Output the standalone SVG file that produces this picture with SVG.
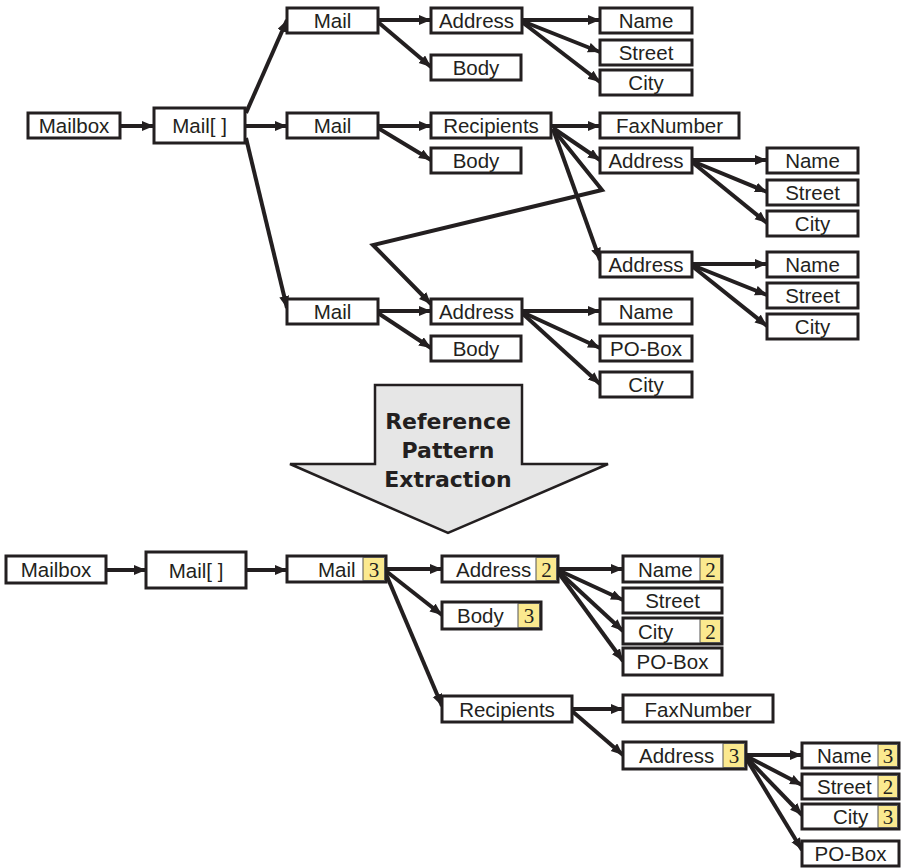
<svg xmlns="http://www.w3.org/2000/svg" width="902" height="868" viewBox="0 0 902 868">
<defs>
<marker id="ah" markerUnits="userSpaceOnUse" markerWidth="13" markerHeight="11" refX="12" refY="5" orient="auto">
<path d="M0,0 L12,5 L0,10 z" fill="#231f20"/>
</marker>
<style>
.b{fill:#fff;stroke:#231f20;stroke-width:3}
.y{fill:#fbe98f;stroke:#555;stroke-width:1}
.t{font-family:"Liberation Sans",Arial,sans-serif;font-size:20.5px;fill:#231f20;text-anchor:middle}
.s{font-family:"Liberation Sans",Arial,sans-serif;font-size:20.5px;fill:#231f20}
.n{font-family:"Liberation Serif","Times New Roman",serif;font-size:21px;fill:#231f20;text-anchor:middle}
.c{fill:none;stroke:#231f20;stroke-width:4;stroke-linejoin:miter;marker-end:url(#ah)}
.h{font-family:"DejaVu Sans",Verdana,sans-serif;font-size:22px;font-weight:bold;fill:#231f20;text-anchor:middle}
</style>
</defs>
<rect width="902" height="868" fill="#fff"/>

<g id="connectors">
<line class="c" x1="120" y1="126" x2="154" y2="126"/>
<line class="c" x1="246" y1="113" x2="287" y2="20"/>
<line class="c" x1="246" y1="126" x2="287" y2="126"/>
<line class="c" x1="246" y1="138" x2="287" y2="308"/>
<line class="c" x1="378" y1="20" x2="431" y2="20"/>
<line class="c" x1="378" y1="22" x2="431" y2="67"/>
<line class="c" x1="522" y1="20" x2="600" y2="20"/>
<line class="c" x1="522" y1="21" x2="600" y2="52"/>
<line class="c" x1="522" y1="22" x2="600" y2="82"/>
<line class="c" x1="378" y1="126" x2="431" y2="126"/>
<line class="c" x1="378" y1="128" x2="431" y2="160"/>
<line class="c" x1="551" y1="126" x2="600" y2="126"/>
<line class="c" x1="553" y1="128" x2="600" y2="160"/>
<polyline class="c" points="553,129 602,190 373,245 431,304"/>
<line class="c" x1="553" y1="129" x2="600" y2="260"/>
<line class="c" x1="692" y1="160" x2="767" y2="160"/>
<line class="c" x1="692" y1="161" x2="767" y2="192"/>
<line class="c" x1="692" y1="162" x2="767" y2="223"/>
<line class="c" x1="692" y1="264" x2="767" y2="264"/>
<line class="c" x1="692" y1="265" x2="767" y2="295"/>
<line class="c" x1="692" y1="266" x2="767" y2="326"/>
<line class="c" x1="378" y1="311" x2="431" y2="311"/>
<line class="c" x1="378" y1="313" x2="431" y2="348"/>
<line class="c" x1="522" y1="311" x2="600" y2="311"/>
<line class="c" x1="522" y1="312" x2="600" y2="348"/>
<line class="c" x1="522" y1="313" x2="600" y2="384"/>

<line class="c" x1="106" y1="570" x2="146" y2="570"/>
<line class="c" x1="246" y1="570" x2="287" y2="570"/>
<line class="c" x1="386" y1="569" x2="442" y2="569"/>
<line class="c" x1="386" y1="571" x2="442" y2="615"/>
<line class="c" x1="386" y1="574" x2="442" y2="706"/>
<line class="c" x1="558" y1="569" x2="623" y2="569"/>
<line class="c" x1="558" y1="570" x2="623" y2="600"/>
<line class="c" x1="558" y1="571" x2="623" y2="631"/>
<line class="c" x1="558" y1="572" x2="623" y2="661"/>
<line class="c" x1="572" y1="709" x2="623" y2="709"/>
<line class="c" x1="572" y1="711" x2="623" y2="755"/>
<line class="c" x1="746" y1="755" x2="802" y2="755"/>
<line class="c" x1="746" y1="756" x2="802" y2="785"/>
<line class="c" x1="746" y1="757" x2="802" y2="815"/>
<line class="c" x1="746" y1="758" x2="802" y2="850"/>
</g>

<g id="t-mailbox"><rect class="b" x="28" y="113" width="92" height="25"/><text class="t" x="74" y="133">Mailbox</text></g>
<g id="t-mailarr"><rect class="b" x="154" y="108" width="91" height="35"/><text class="t" x="199.5" y="133">Mail[ ]</text></g>
<g id="t-mail1"><rect class="b" x="287" y="8" width="91" height="25"/><text class="t" x="332.5" y="28">Mail</text></g>
<g id="t-mail2"><rect class="b" x="287" y="113" width="91" height="25"/><text class="t" x="332.5" y="133">Mail</text></g>
<g id="t-mail3"><rect class="b" x="287" y="299" width="91" height="25"/><text class="t" x="332.5" y="319">Mail</text></g>
<g id="t-addr1"><rect class="b" x="431" y="8" width="91" height="25"/><text class="t" x="476.5" y="28">Address</text></g>
<g id="t-body1"><rect class="b" x="431" y="55" width="90" height="25"/><text class="t" x="476" y="75">Body</text></g>
<g id="t-name1"><rect class="b" x="600" y="8" width="92" height="25"/><text class="t" x="646" y="28">Name</text></g>
<g id="t-street1"><rect class="b" x="600" y="40" width="92" height="25"/><text class="t" x="646" y="60">Street</text></g>
<g id="t-city1"><rect class="b" x="600" y="70" width="92" height="25"/><text class="t" x="646" y="90">City</text></g>
<g id="t-recip"><rect class="b" x="431" y="113" width="120" height="25"/><text class="t" x="491" y="133">Recipients</text></g>
<g id="t-body2"><rect class="b" x="431" y="148" width="90" height="25"/><text class="t" x="476" y="168">Body</text></g>
<g id="t-fax"><rect class="b" x="600" y="113" width="139" height="25"/><text class="t" x="669.5" y="133">FaxNumber</text></g>
<g id="t-addr2"><rect class="b" x="600" y="148" width="92" height="25"/><text class="t" x="646" y="168">Address</text></g>
<g id="t-name2"><rect class="b" x="767" y="148" width="91" height="25"/><text class="t" x="812.5" y="168">Name</text></g>
<g id="t-street2"><rect class="b" x="767" y="180" width="91" height="25"/><text class="t" x="812.5" y="200">Street</text></g>
<g id="t-city2"><rect class="b" x="767" y="211" width="91" height="25"/><text class="t" x="812.5" y="231">City</text></g>
<g id="t-addr3"><rect class="b" x="600" y="252" width="92" height="25"/><text class="t" x="646" y="272">Address</text></g>
<g id="t-name3"><rect class="b" x="767" y="252" width="91" height="25"/><text class="t" x="812.5" y="272">Name</text></g>
<g id="t-street3"><rect class="b" x="767" y="283" width="91" height="25"/><text class="t" x="812.5" y="303">Street</text></g>
<g id="t-city3"><rect class="b" x="767" y="314" width="91" height="25"/><text class="t" x="812.5" y="334">City</text></g>
<g id="t-addr4"><rect class="b" x="431" y="299" width="91" height="25"/><text class="t" x="476.5" y="319">Address</text></g>
<g id="t-body3"><rect class="b" x="431" y="336" width="90" height="25"/><text class="t" x="476" y="356">Body</text></g>
<g id="t-name4"><rect class="b" x="600" y="299" width="92" height="25"/><text class="t" x="646" y="319">Name</text></g>
<g id="t-pobox"><rect class="b" x="600" y="336" width="92" height="25"/><text class="t" x="646" y="356">PO-Box</text></g>
<g id="t-city4"><rect class="b" x="600" y="372" width="92" height="25"/><text class="t" x="646" y="392">City</text></g>

<g id="extraction-arrow">
<polygon points="375,385 522,385 522,464 608,464 448,533 290,464 375,464" fill="#e6e6e6" stroke="#231f20" stroke-width="2.5" stroke-linejoin="miter"/>
<text class="h" x="448" y="429">Reference</text>
<text class="h" x="448" y="458">Pattern</text>
<text class="h" x="448" y="487">Extraction</text>
</g>

<g id="p-mailbox"><rect class="b" x="6" y="556" width="100" height="27"/><text class="t" x="56" y="577">Mailbox</text></g>
<g id="p-mailarr"><rect class="b" x="146" y="552" width="100" height="36"/><text class="t" x="196" y="578">Mail[ ]</text></g>
<g id="p-mail"><rect class="b" x="287" y="556" width="99" height="26"/><rect class="y" x="363" y="557.5" width="21.5" height="23"/><text class="s" x="318" y="577">Mail</text><text class="n" x="374" y="577">3</text></g>
<g id="p-addr"><rect class="b" x="442" y="556" width="116" height="26"/><rect class="y" x="536" y="557.5" width="20.5" height="23"/><text class="s" x="456" y="577">Address</text><text class="n" x="546.5" y="577">2</text></g>
<g id="p-body"><rect class="b" x="442" y="602" width="99" height="27"/><rect class="y" x="518" y="603.5" width="21.5" height="24"/><text class="s" x="457" y="623">Body</text><text class="n" x="529" y="623">3</text></g>
<g id="p-name"><rect class="b" x="623" y="556" width="99" height="26"/><rect class="y" x="700" y="557.5" width="20.5" height="23"/><text class="s" x="638" y="577">Name</text><text class="n" x="710.5" y="577">2</text></g>
<g id="p-street"><rect class="b" x="623" y="588" width="99" height="25"/><text class="t" x="672.5" y="608">Street</text></g>
<g id="p-city"><rect class="b" x="623" y="618" width="99" height="26"/><rect class="y" x="700" y="619.5" width="20.5" height="23"/><text class="s" x="638" y="639">City</text><text class="n" x="710.5" y="639">2</text></g>
<g id="p-pobox"><rect class="b" x="623" y="648" width="99" height="27"/><text class="t" x="672.5" y="669">PO-Box</text></g>
<g id="p-recip"><rect class="b" x="442" y="696" width="130" height="26"/><text class="t" x="507" y="717">Recipients</text></g>
<g id="p-fax"><rect class="b" x="623" y="695" width="150" height="27"/><text class="t" x="698" y="717">FaxNumber</text></g>
<g id="p-addr2"><rect class="b" x="623" y="742" width="123" height="27"/><rect class="y" x="723" y="743.5" width="21.5" height="24"/><text class="s" x="639" y="763">Address</text><text class="n" x="734" y="763">3</text></g>
<g id="p-name2"><rect class="b" x="802" y="743" width="97" height="25"/><rect class="y" x="878" y="744.5" width="19.5" height="22"/><text class="s" x="817" y="763">Name</text><text class="n" x="888" y="763">3</text></g>
<g id="p-street2"><rect class="b" x="802" y="774" width="97" height="25"/><rect class="y" x="878" y="775.5" width="19.5" height="22"/><text class="s" x="817" y="794">Street</text><text class="n" x="888" y="794">2</text></g>
<g id="p-city2"><rect class="b" x="802" y="804" width="97" height="25"/><rect class="y" x="878" y="805.5" width="19.5" height="22"/><text class="s" x="833" y="824">City</text><text class="n" x="888" y="824">3</text></g>
<g id="p-pobox2"><rect class="b" x="802" y="841" width="97" height="25"/><text class="t" x="850.5" y="861">PO-Box</text></g>
</svg>
